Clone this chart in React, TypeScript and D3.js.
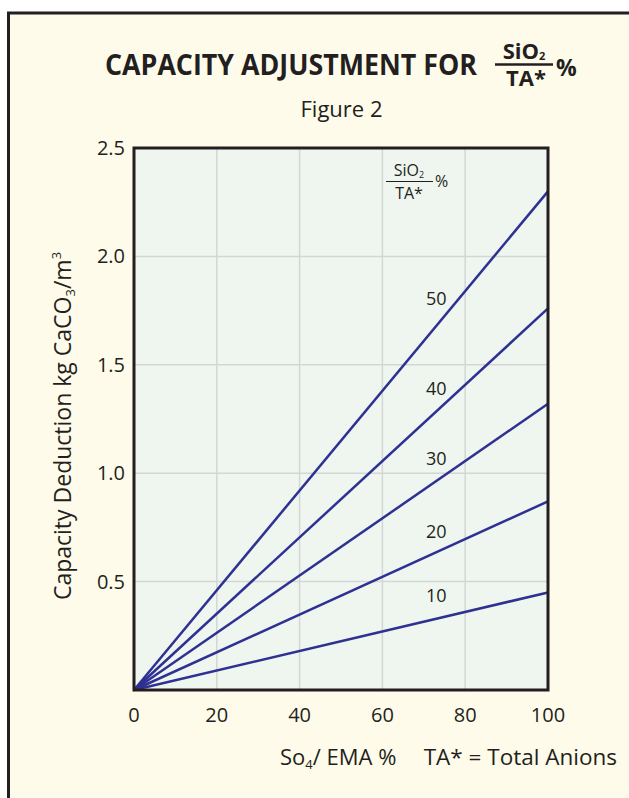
import React from 'react';
import * as d3 from 'd3';

// ---- data ----
const sio2Labels = ['10', '20', '30', '40', '50'];
const xValues = [0, 100];
const series10 = [0, 0.45];
const series20 = [0, 0.87];
const series30 = [0, 1.32];
const series40 = [0, 1.76];
const series50 = [0, 2.3];
const allSeries = [series10, series20, series30, series40, series50];
const labelX = 73;
const labelYValues = [0.406, 0.701, 1.038, 1.361, 1.776];
const xTicks = [0, 20, 40, 60, 80, 100];
const xTickLabels = ['0', '20', '40', '60', '80', '100'];
const yTicks = [0.5, 1.0, 1.5, 2.0, 2.5];
const yTickLabels = ['0.5', '1.0', '1.5', '2.0', '2.5'];

const FONT = '"Open Sans", "Noto Sans", sans-serif';
const INK = '#231f20';
const LINE = '#2e3192';

export default function App() {
  const x = d3.scaleLinear().domain([0, 100]).range([134, 548]);
  const y = d3.scaleLinear().domain([0, 2.5]).range([690, 148]);
  const line = d3
    .line<[number, number]>()
    .x((d) => x(d[0]))
    .y((d) => y(d[1]));

  return (
    <svg
      width={629}
      height={798}
      style={{ position: 'absolute', left: 0, top: 0, background: '#ffffff' }}
      fontFamily={FONT}
    >
      {/* outer frame */}
      <rect x={8.5} y={13} width={700} height={900} fill="#fefbea" stroke={INK} strokeWidth={3} />

      {/* title */}
      <text
        x={105}
        y={75}
        fontSize={29}
        fontWeight={700}
        fill={INK}
        textLength={372}
        lengthAdjust="spacingAndGlyphs"
      >
        CAPACITY ADJUSTMENT FOR
      </text>
      <text x={524} y={59} fontSize={22} fontWeight={700} fill={INK} textAnchor="middle">
        SiO<tspan fontSize={11} dy={1}>2</tspan>
      </text>
      <line x1={495} x2={553} y1={64.5} y2={64.5} stroke={INK} strokeWidth={2.5} />
      <text x={526} y={86} fontSize={22} fontWeight={700} fill={INK} textAnchor="middle">
        TA*
      </text>
      <text x={556} y={76} fontSize={23} fontWeight={700} fill={INK}>
        %
      </text>
      <text x={341.5} y={117} fontSize={22} fill={INK} textAnchor="middle">
        Figure 2
      </text>

      {/* plot background */}
      <rect x={x(0)} y={y(2.5)} width={x(100) - x(0)} height={y(0) - y(2.5)} fill="#eff6ef" />

      {/* grid */}
      {xTicks.slice(1, -1).map((t) => (
        <line key={'gx' + t} x1={x(t)} x2={x(t)} y1={y(0)} y2={y(2.5)} stroke="#d3d6d3" strokeWidth={1.5} />
      ))}
      {yTicks.slice(0, -1).map((t) => (
        <line key={'gy' + t} x1={x(0)} x2={x(100)} y1={y(t)} y2={y(t)} stroke="#d3d6d3" strokeWidth={1.5} />
      ))}

      {/* series lines */}
      {allSeries.map((s, i) => (
        <path
          key={'s' + i}
          d={line(xValues.map((xv, j) => [xv, s[j]]) as [number, number][]) || ''}
          fill="none"
          stroke={LINE}
          strokeWidth={2.5}
        />
      ))}

      {/* series labels */}
      {sio2Labels.map((l, i) => (
        <text key={'l' + l} x={x(labelX)} y={y(labelYValues[i])} fontSize={18} fill={INK} textAnchor="middle">
          {l}
        </text>
      ))}

      {/* legend heading inside plot */}
      <text x={409} y={176} fontSize={16} fill={INK} textAnchor="middle">
        SiO<tspan fontSize={9} dy={2}>2</tspan>
      </text>
      <line x1={386} x2={433} y1={181.5} y2={181.5} stroke={INK} strokeWidth={1} />
      <text x={409} y={199} fontSize={16} fill={INK} textAnchor="middle">
        TA*
      </text>
      <text x={435} y={187} fontSize={16} fill={INK}>
        %
      </text>

      {/* plot frame */}
      <rect
        x={x(0)}
        y={y(2.5)}
        width={x(100) - x(0)}
        height={y(0) - y(2.5)}
        fill="none"
        stroke={INK}
        strokeWidth={3}
      />

      {/* x tick labels */}
      {xTicks.map((t, i) => (
        <text key={'xt' + t} x={x(t)} y={722} fontSize={20} fill={INK} textAnchor="middle">
          {xTickLabels[i]}
        </text>
      ))}
      {/* y tick labels */}
      {yTicks.map((t, i) => (
        <text key={'yt' + t} x={125} y={y(t)} dy="0.35em" fontSize={20} fill={INK} textAnchor="end">
          {yTickLabels[i]}
        </text>
      ))}

      {/* x axis title */}
      <text x={280} y={765} fontSize={22} fill={INK}>
        So<tspan fontSize={13} dy={4}>4</tspan>
        <tspan dy={-4}>/ EMA %</tspan>
      </text>
      <text x={617} y={765} fontSize={22.5} fill={INK} textAnchor="end">
        TA* = Total Anions
      </text>

      {/* y axis title */}
      <text
        transform={`translate(71, 426) rotate(-90)`}
        fontSize={23}
        fill={INK}
        textAnchor="middle"
      >
        Capacity Deduction kg CaCO<tspan fontSize={13} dy={4}>3</tspan>
        <tspan dy={-4}>/m</tspan>
        <tspan fontSize={13} dy={-10}>3</tspan>
      </text>
    </svg>
  );
}
